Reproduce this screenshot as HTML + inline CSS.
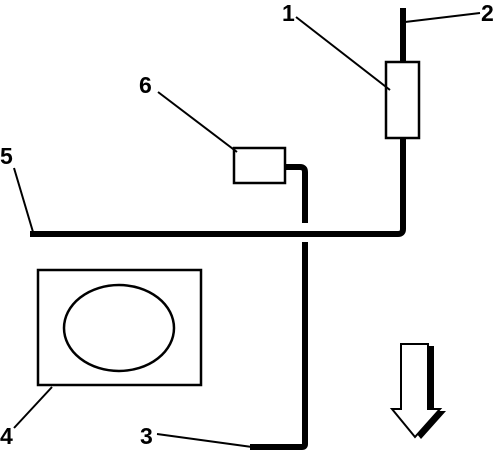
<!DOCTYPE html>
<html><head><meta charset="utf-8"><style>
html,body{margin:0;padding:0;background:#fff}
svg{display:block}
text{font-family:"Liberation Sans",Arial,sans-serif;font-size:23px;font-weight:bold;fill:#000}
</style></head><body>
<svg width="500" height="453" viewBox="0 0 500 453">
<g>
<path d="M403 8 V229 Q403 234 398 234 H30" fill="none" stroke="#000" stroke-width="6"/>
</g>
<rect x="386" y="62" width="33" height="76" fill="#fff" stroke="#000" stroke-width="2.5"/>
<rect x="234" y="148" width="51" height="35" fill="#fff" stroke="#000" stroke-width="2.5"/>
<path d="M285 167 H300 Q305 167 305 172 V223" fill="none" stroke="#000" stroke-width="6"/>
<path d="M305 242 V444 Q305 447 302 447 H250" fill="none" stroke="#000" stroke-width="6"/>
<rect x="38" y="270" width="163" height="115" fill="#fff" stroke="#000" stroke-width="2.5"/>
<ellipse cx="119" cy="328" rx="55" ry="43" fill="#fff" stroke="#000" stroke-width="2.5"/>
<g>
<path d="M407 346 H434 V411 H446 L421 439 L398 411 H407 Z" fill="#000"/>
<path d="M401 344 H428 V409 H440 L415 437 L392 409 H401 Z" fill="#fff" stroke="#000" stroke-width="2"/>
</g>
<g stroke="#000" stroke-width="2" fill="none">
<line x1="405" y1="22" x2="480" y2="13"/>
<line x1="296" y1="17" x2="390" y2="90"/>
<line x1="158" y1="92" x2="237" y2="152"/>
<line x1="14" y1="168" x2="33" y2="232"/>
<line x1="14" y1="428" x2="52" y2="387"/>
<line x1="157" y1="434" x2="252" y2="447"/>
</g>
<text x="282" y="21">1</text>
<text x="481" y="21">2</text>
<text x="139" y="93">6</text>
<text x="0" y="164">5</text>
<text x="0" y="444">4</text>
<text x="140" y="444">3</text>
</svg>
</body></html>
